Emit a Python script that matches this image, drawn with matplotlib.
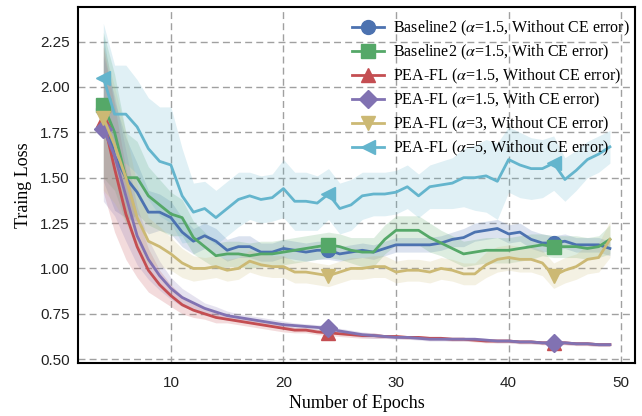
import numpy as np
import matplotlib.pyplot as plt

epochs = np.arange(4, 50)

base_no_ce = [1.88, 1.62, 1.50, 1.42, 1.31, 1.31, 1.28, 1.20, 1.15, 1.18, 1.15, 1.10, 1.12, 1.12,
              1.09, 1.09, 1.11, 1.10, 1.09, 1.10, 1.10, 1.08, 1.09, 1.10, 1.09, 1.11, 1.13, 1.13,
              1.13, 1.13, 1.14, 1.16, 1.17, 1.20, 1.21, 1.22, 1.19, 1.20, 1.16, 1.14, 1.14, 1.15,
              1.13, 1.13, 1.13, 1.11]
base_no_ce_sd = [0.40, 0.30, 0.22, 0.16, 0.12, 0.10, 0.09, 0.08, 0.07, 0.07, 0.07, 0.06, 0.06, 0.06,
                 0.05, 0.05, 0.05, 0.05, 0.05, 0.05, 0.05, 0.04, 0.04, 0.04, 0.04, 0.04, 0.04, 0.04,
                 0.04, 0.04, 0.04, 0.04, 0.05, 0.05, 0.05, 0.05, 0.05, 0.05, 0.05, 0.05, 0.04, 0.04,
                 0.04, 0.04, 0.04, 0.04]

base_ce = [1.90, 1.75, 1.50, 1.50, 1.40, 1.35, 1.30, 1.28, 1.17, 1.12, 1.07, 1.08, 1.08, 1.07,
           1.08, 1.08, 1.09, 1.10, 1.11, 1.12, 1.13, 1.12, 1.10, 1.09, 1.09, 1.16, 1.21, 1.21,
           1.21, 1.17, 1.14, 1.11, 1.08, 1.09, 1.10, 1.10, 1.10, 1.11, 1.12, 1.13, 1.12, 1.12,
           1.12, 1.11, 1.12, 1.16]
base_ce_sd = [0.40, 0.32, 0.25, 0.20, 0.16, 0.14, 0.12, 0.10, 0.09, 0.08, 0.07, 0.07, 0.07, 0.07,
              0.07, 0.07, 0.07, 0.07, 0.07, 0.07, 0.07, 0.07, 0.07, 0.08, 0.08, 0.08, 0.08, 0.08,
              0.08, 0.08, 0.07, 0.07, 0.07, 0.07, 0.07, 0.07, 0.07, 0.07, 0.07, 0.06, 0.06, 0.06,
              0.06, 0.06, 0.06, 0.08]

pea_no_ce = [1.82, 1.55, 1.30, 1.12, 0.99, 0.91, 0.85, 0.80, 0.77, 0.75, 0.73, 0.72, 0.71, 0.70,
             0.69, 0.68, 0.67, 0.66, 0.66, 0.65, 0.645, 0.64, 0.635, 0.63, 0.63, 0.625, 0.625, 0.62,
             0.62, 0.615, 0.615, 0.61, 0.61, 0.605, 0.60, 0.60, 0.60, 0.595, 0.595, 0.59, 0.59, 0.59,
             0.585, 0.585, 0.58, 0.58]
pea_no_ce_sd = [0.40, 0.35, 0.25, 0.17, 0.12, 0.08, 0.06, 0.05, 0.04, 0.03, 0.03, 0.02, 0.02, 0.02,
                0.02, 0.02, 0.02, 0.015, 0.015, 0.015, 0.015, 0.015, 0.015, 0.015, 0.015, 0.01, 0.01, 0.01,
                0.01, 0.01, 0.01, 0.01, 0.01, 0.01, 0.01, 0.01, 0.01, 0.01, 0.01, 0.01, 0.01, 0.01,
                0.01, 0.01, 0.01, 0.01]

pea_ce = [1.77, 1.62, 1.40, 1.18, 1.05, 0.96, 0.89, 0.84, 0.81, 0.78, 0.76, 0.74, 0.73, 0.72,
          0.71, 0.70, 0.69, 0.685, 0.68, 0.675, 0.67, 0.655, 0.645, 0.635, 0.63, 0.625, 0.62, 0.62,
          0.615, 0.61, 0.61, 0.61, 0.61, 0.61, 0.605, 0.60, 0.60, 0.595, 0.595, 0.59, 0.59, 0.59,
          0.585, 0.585, 0.58, 0.58]
pea_ce_sd = [0.40, 0.33, 0.25, 0.16, 0.11, 0.08, 0.06, 0.05, 0.04, 0.03, 0.03, 0.025, 0.02, 0.02,
             0.02, 0.02, 0.02, 0.015, 0.015, 0.015, 0.015, 0.015, 0.015, 0.015, 0.015, 0.01, 0.01, 0.01,
             0.01, 0.01, 0.01, 0.01, 0.01, 0.01, 0.01, 0.01, 0.01, 0.01, 0.01, 0.01, 0.01, 0.01,
             0.01, 0.01, 0.01, 0.01]

pea_a3 = [1.83, 1.68, 1.50, 1.28, 1.15, 1.12, 1.08, 1.03, 1.00, 1.00, 1.01, 0.99, 1.00, 1.04,
          1.02, 1.01, 1.01, 0.98, 0.98, 0.97, 0.96, 0.98, 1.00, 1.00, 1.01, 1.01, 0.98, 0.99,
          0.99, 0.98, 1.00, 0.99, 0.97, 0.97, 1.02, 1.05, 1.06, 1.05, 1.05, 1.03, 0.96, 0.99,
          1.01, 1.05, 1.06, 1.16]
pea_a3_sd = [0.40, 0.32, 0.25, 0.18, 0.13, 0.11, 0.09, 0.08, 0.07, 0.06, 0.06, 0.06, 0.06, 0.06,
             0.06, 0.06, 0.06, 0.06, 0.06, 0.06, 0.06, 0.06, 0.06, 0.06, 0.06, 0.06, 0.06, 0.06,
             0.06, 0.06, 0.06, 0.06, 0.06, 0.06, 0.07, 0.07, 0.07, 0.07, 0.07, 0.07, 0.07, 0.07,
             0.07, 0.08, 0.08, 0.10]

pea_a5 = [2.05, 1.85, 1.85, 1.78, 1.66, 1.59, 1.57, 1.40, 1.31, 1.33, 1.28, 1.33, 1.38, 1.40,
          1.38, 1.39, 1.44, 1.37, 1.37, 1.36, 1.41, 1.33, 1.35, 1.40, 1.41, 1.41, 1.42, 1.45,
          1.40, 1.45, 1.46, 1.47, 1.50, 1.50, 1.51, 1.48, 1.60, 1.57, 1.55, 1.55, 1.58, 1.49,
          1.54, 1.60, 1.63, 1.67]
pea_a5_sd = [0.30, 0.27, 0.27, 0.26, 0.28, 0.30, 0.32, 0.26, 0.16, 0.15, 0.15, 0.15, 0.15, 0.13,
             0.13, 0.13, 0.16, 0.16, 0.16, 0.15, 0.14, 0.14, 0.14, 0.13, 0.12, 0.12, 0.12, 0.12,
             0.12, 0.12, 0.13, 0.14, 0.16, 0.18, 0.20, 0.21, 0.18, 0.18, 0.17, 0.16, 0.15, 0.12,
             0.11, 0.10, 0.10, 0.09]

labels = ['Baseline2 ($\\alpha$=1.5, Without CE error)',
          'Baseline2 ($\\alpha$=1.5, With CE error)',
          'PEA-FL ($\\alpha$=1.5, Without CE error)',
          'PEA-FL ($\\alpha$=1.5, With CE error)',
          'PEA-FL ($\\alpha$=3, Without CE error)',
          'PEA-FL ($\\alpha$=5, Without CE error)']
series = [base_no_ce, base_ce, pea_no_ce, pea_ce, pea_a3, pea_a5]
spreads = [base_no_ce_sd, base_ce_sd, pea_no_ce_sd, pea_ce_sd, pea_a3_sd, pea_a5_sd]
colors = ['#4C72B0', '#55A868', '#C44E52', '#8172B2', '#CCB974', '#64B5CD']
markers = ['o', 's', '^', 'D', 'v', '<']

plt.rcParams['mathtext.fontset'] = 'stix'

fig = plt.figure(figsize=(6.42, 4.16), dpi=100)
ax = fig.add_axes([0.1215, 0.127, 0.868, 0.856])

for y, sd, c, m, lab in zip(series, spreads, colors, markers, labels):
    y = np.array(y)
    sd = np.array(sd)
    ax.fill_between(epochs, y - sd, y + sd, color=c, alpha=0.2, linewidth=0)
    ax.plot(epochs, y, color=c, lw=2, marker=m, markersize=10 if m != 'D' else 9,
            markevery=20, label=lab)

ax.set_xlim(1.75, 51.25)
ax.set_ylim(0.478, 2.44)
ax.set_yticks([0.5, 0.75, 1.0, 1.25, 1.5, 1.75, 2.0, 2.25])
ax.set_yticklabels(['0.50', '0.75', '1.00', '1.25', '1.50', '1.75', '2.00', '2.25'])
ax.set_xticks([10, 20, 30, 40, 50])
ax.grid(True, linestyle=(0, (5, 3)), color='#a0a0a0', linewidth=1)
ax.set_axisbelow(True)
for s in ax.spines.values():
    s.set_color('black')
    s.set_linewidth(1.5)
ax.tick_params(axis='both', labelsize=11, length=0)
ax.tick_params(axis='x', pad=9)
ax.tick_params(axis='y', pad=6)
for t in ax.get_xticklabels() + ax.get_yticklabels():
    t.set_fontfamily('Liberation Sans')
    t.set_color('#222222')

ax.set_xlabel('Number of Epochs', fontsize=13, family='Liberation Serif', labelpad=3)
ax.set_ylabel('Traing Loss', fontsize=13, family='Liberation Serif', labelpad=6)

ax.legend(loc='upper right', bbox_to_anchor=(1.012, 1.0), frameon=False,
          prop={'family': 'Liberation Serif', 'size': 11.5},
          handlelength=2.0, labelspacing=0.3, borderaxespad=0, borderpad=0.74,
          handletextpad=0.6)

fig.savefig('out.png', dpi=100)
